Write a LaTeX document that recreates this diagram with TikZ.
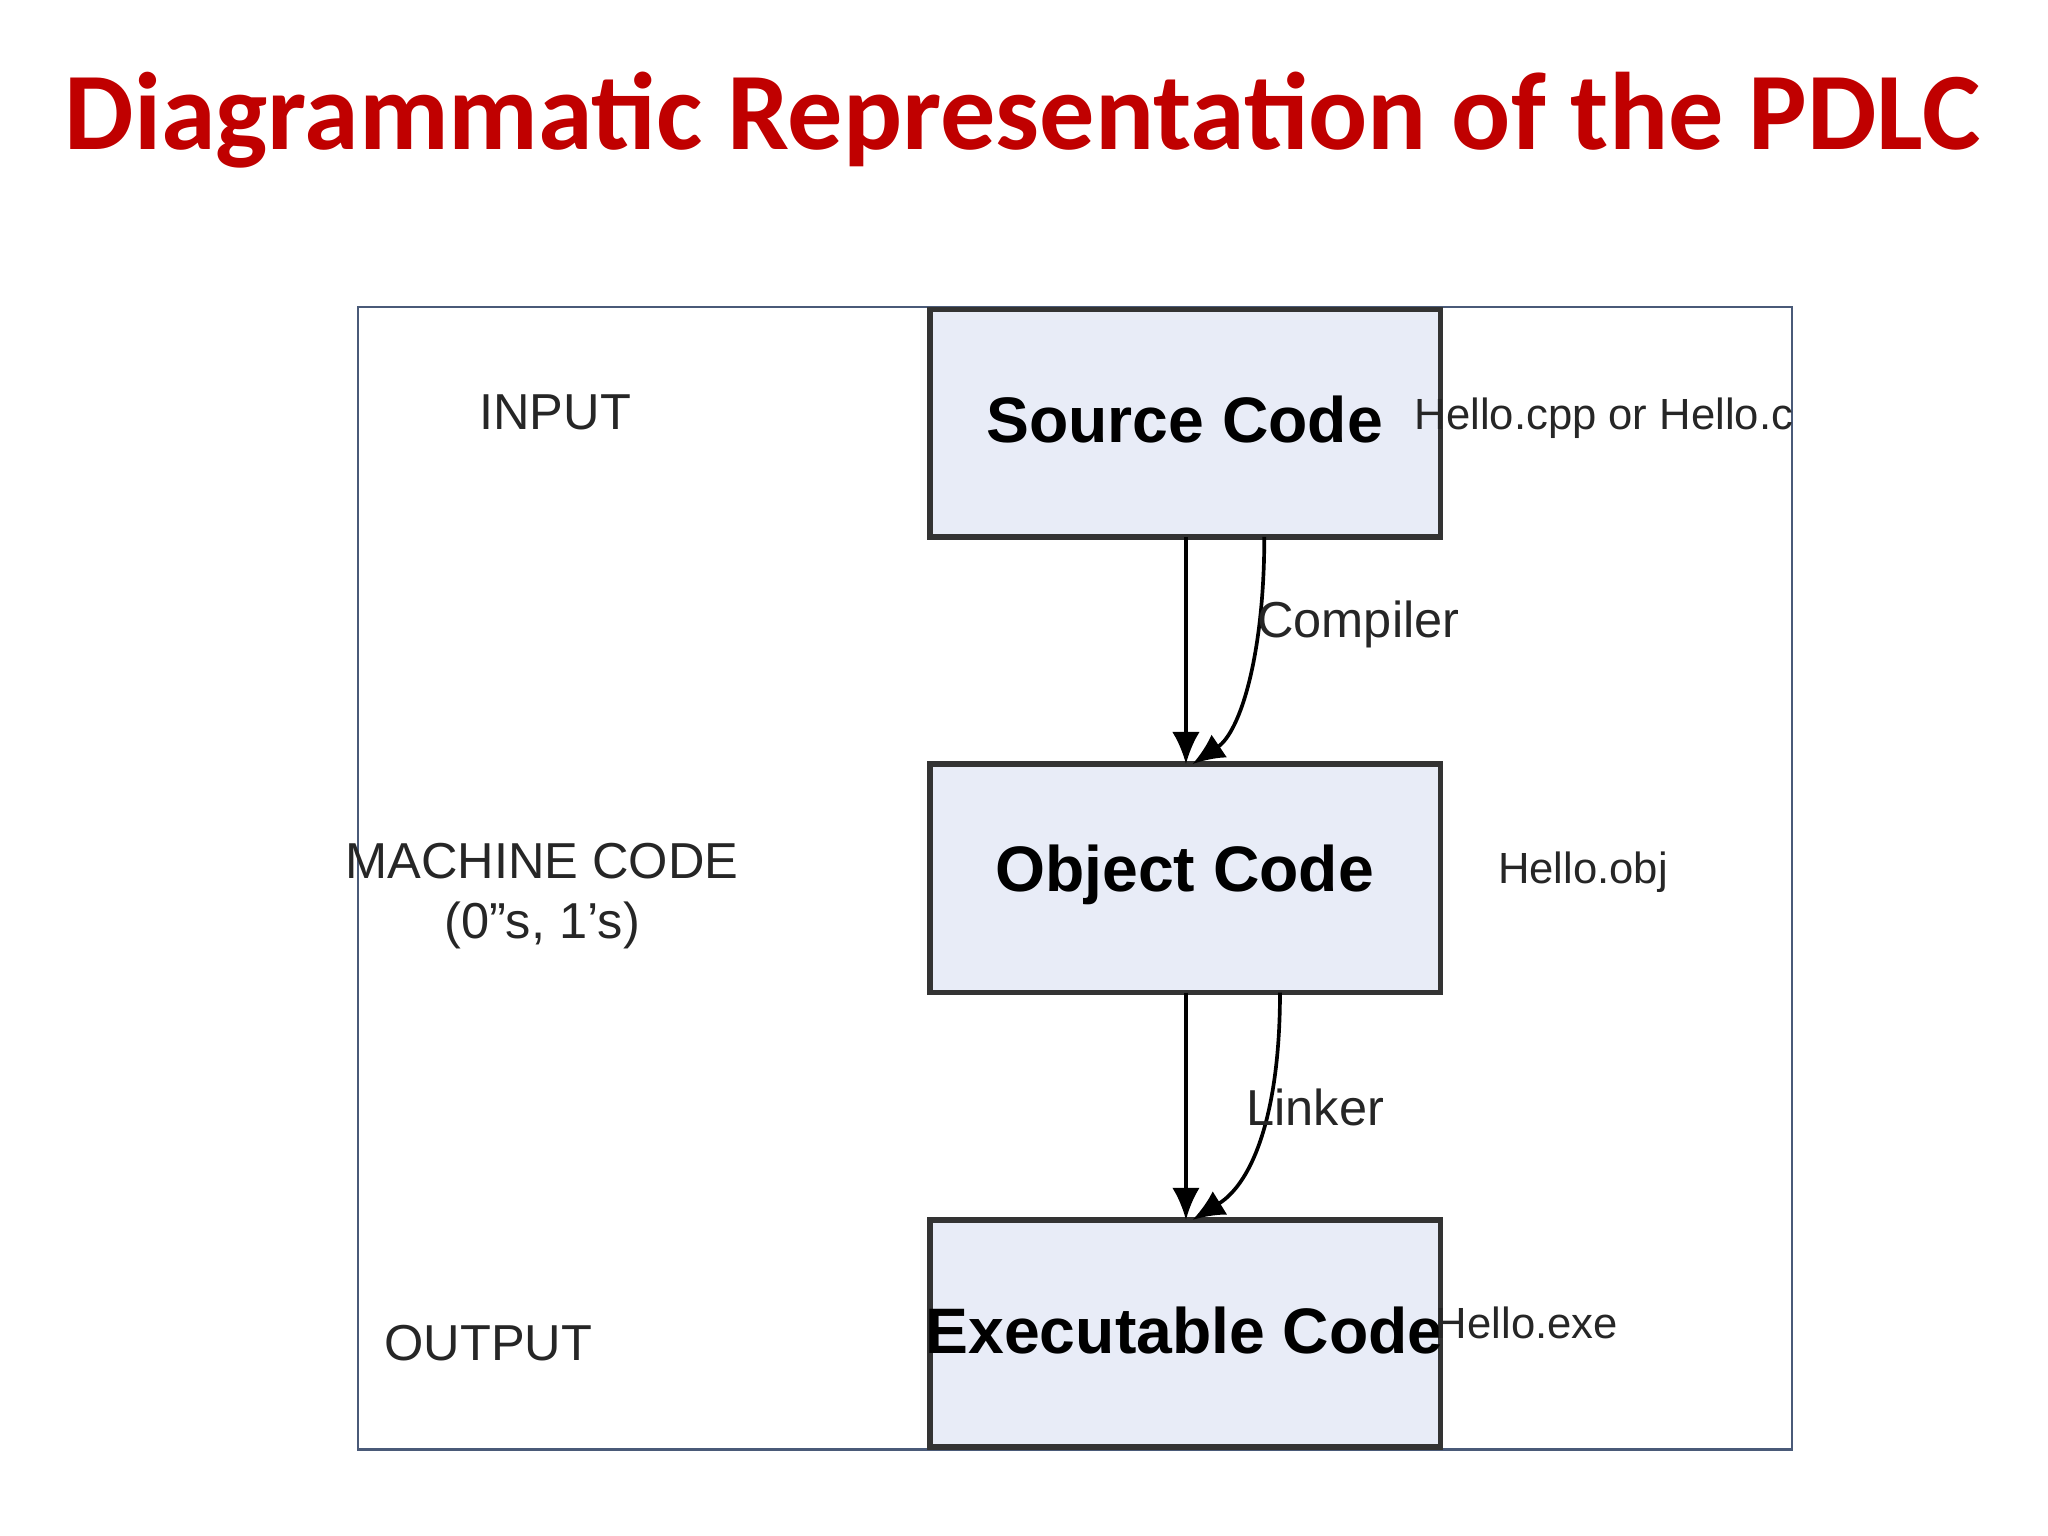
\documentclass[tikz,border=0pt]{standalone}
\usepackage{fontspec}
\setmainfont{Liberation Sans}
\newfontfamily\titlefont{Carlito}
\usetikzlibrary{arrows.meta}
\definecolor{titlered}{HTML}{C00000}
\definecolor{boxfill}{HTML}{E8ECF7}
\definecolor{framec}{HTML}{4A5A78}
\begin{document}
\begin{tikzpicture}[x=0.01cm,y=-0.01cm,
  box/.style={draw=black!80,line width=1.2pt,fill=boxfill,minimum width=391\pgflinewidth,inner sep=0pt},
  boxtxt/.style={font=\fontsize{14}{16}\selectfont\bfseries},
  lbl/.style={font=\fontsize{11}{13}\selectfont,text=black!85},
  arr/.style={line width=0.8pt,-{Latex[length=7pt,width=6pt]}}]
\useasboundingbox (0,0) rectangle (1568,1176);
\node[font=\titlefont\fontsize{24}{28}\selectfont\bfseries,text=titlered] (title) at (783,92) {Diagrammatic Representation of the PDLC};
\draw[framec,line width=0.6pt] (274,235) rectangle (1372,1110);
\draw[box] (712,237) rectangle (1103,411);
\draw[box] (712,585) rectangle (1103,760);
\draw[box] (712,934) rectangle (1103,1108);
\node[boxtxt] (src) at (907,321) {Source Code};
\node[boxtxt] (obj) at (907,670) {Object Code};
\node[boxtxt] (exe) at (907,1019) {Executable Code};
\coordinate (s1) at (908,411); \coordinate (o1) at (908,585);
\coordinate (s2) at (968,411); \coordinate (o2) at (913,585);
\coordinate (o3) at (908,760); \coordinate (e1) at (908,934);
\coordinate (o4) at (980,760); \coordinate (e2) at (913,934);
\draw[arr] (s1) -- (o1);
\draw[arr] (s2) .. controls (968,500) and (950,560) .. (o2);
\draw[arr] (o3) -- (e1);
\draw[arr] (o4) .. controls (980,850) and (960,905) .. (e2);
\node[lbl] (comp) at (1040,478) {Compiler};
\node[lbl] (link) at (1007,848) {Linker};
\node[lbl] (inp) at (425,316) {INPUT};
\node[lbl,align=center] (mc) at (415,686) {MACHINE CODE\\(0"s, 1's)};
\node[lbl] (out) at (374,1028) {OUTPUT};
\node[lbl,font=\fontsize{9.5}{11}\selectfont] (h1) at (1228,320) {Hello.cpp or Hello.c};
\node[lbl,font=\fontsize{9.5}{11}\selectfont] (h2) at (1212,668) {Hello.obj};
\node[lbl,font=\fontsize{9.5}{11}\selectfont] (h3) at (1169,1013) {Hello.exe};
\end{tikzpicture}
\end{document}
